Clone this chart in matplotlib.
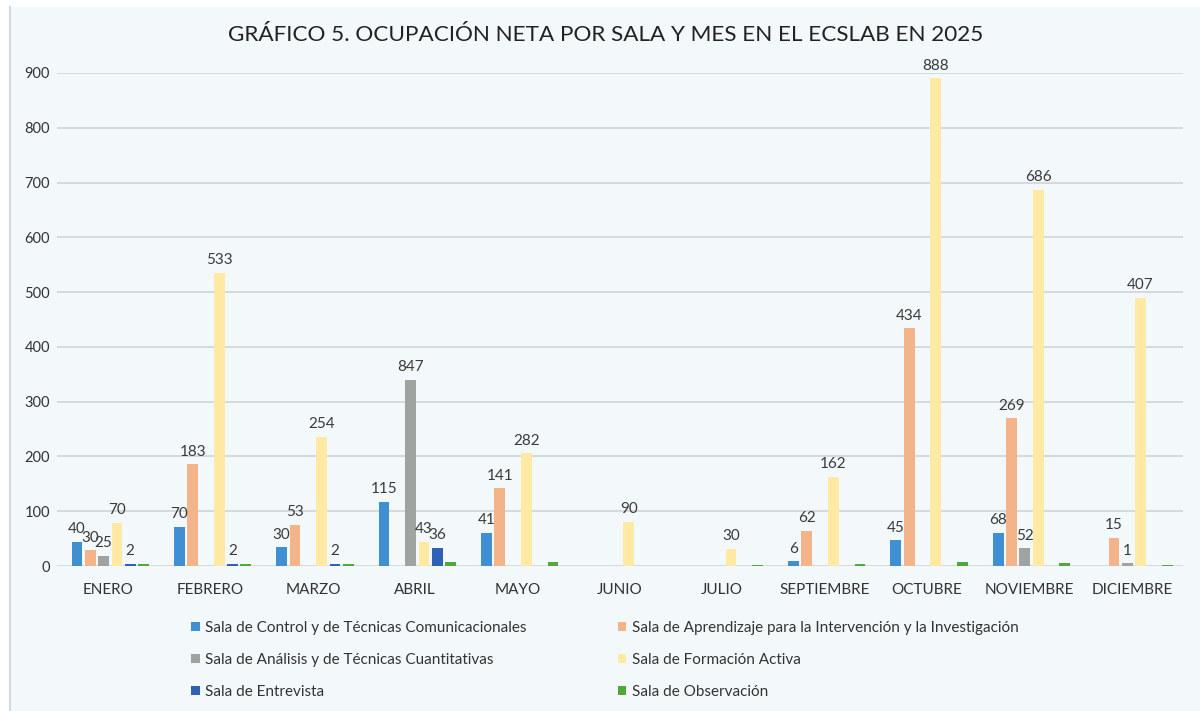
import numpy as np
import matplotlib.pyplot as plt
from matplotlib.patches import Patch
from matplotlib.lines import Line2D

meses = ["ENERO", "FEBRERO", "MARZO", "ABRIL", "MAYO", "JUNIO", "JULIO",
         "SEPTIEMBRE", "OCTUBRE", "NOVIEMBRE", "DICIEMBRE"]

salas = [
    "Sala de Control y de Técnicas Comunicacionales",
    "Sala de Aprendizaje para la Intervención y la Investigación",
    "Sala de Análisis y de Técnicas Cuantitativas",
    "Sala de Formación Activa",
    "Sala de Entrevista",
    "Sala de Observación",
]
colores = ["#3f8fd2", "#f4b48a", "#a0a4a0", "#ffe9a3", "#2d62b6", "#4fa83c"]

# bar heights as drawn in the picture
control = [44, 72, 34, 117, 61, 0, 0, 8.5, 47, 61, 0]
aprendizaje = [29, 186, 75, 0, 142, 0, 0, 64, 434, 270, 52]
analisis = [19, 0, 0, 340, 0, 0, 0, 0, 0, 32, 5]
formacion = [79, 535, 236, 44, 206, 81, 31, 163, 890, 687, 490]
entrevista = [4, 4, 4, 33, 0, 0, 0, 0, 0, 0, 0]
observacion = [4, 4, 4, 7, 7, 0, 2, 3, 8, 6, 2]

# numbers printed above the bars
lab_control = [40, 70, 30, 115, 41, None, None, 6, 45, 68, None]
lab_aprendizaje = [30, 183, 53, None, 141, None, None, 62, 434, 269, 15]
lab_analisis = [25, None, None, 847, None, None, None, None, None, 52, 1]
lab_formacion = [70, 533, 254, 43, 282, 90, 30, 162, 888, 686, 407]
lab_entrevista = [2, 2, 2, 36, None, None, None, None, None, None, None]
lab_observacion = [None] * 11

series = [control, aprendizaje, analisis, formacion, entrevista, observacion]
etiquetas = [lab_control, lab_aprendizaje, lab_analisis, lab_formacion,
             lab_entrevista, lab_observacion]

plt.rcParams['font.family'] = ['Lato', 'DejaVu Sans']

bg = "#f3f8fa"
fig = plt.figure(figsize=(12, 7.11), dpi=100, facecolor="white")
fig.patches.append(plt.Rectangle((10 / 1200, 0), 1 - 10 / 1200, 1 - 7 / 711,
                                 transform=fig.transFigure, facecolor=bg,
                                 edgecolor="none", zorder=-10))
fig.lines.append(Line2D([10 / 1200, 10 / 1200], [0, 1 - 7 / 711],
                        transform=fig.transFigure, color="#d5d9db", lw=1.5))

ax = fig.add_axes([57 / 1200, 1 - 566 / 711, 1126 / 1200, 493 / 711])
ax.set_facecolor("none")

x = np.arange(len(meses))
pitch = 0.13
width = 0.105
for i, (vals, labs) in enumerate(zip(series, etiquetas)):
    pos = x + (i - 2.5) * pitch + 0.02
    ax.bar(pos, vals, width, color=colores[i], zorder=3)
    for px, v, lab in zip(pos, vals, labs):
        if lab is not None:
            ax.annotate(str(lab), (px, v), xytext=(0, 4), textcoords="offset points",
                        ha="center", va="bottom", fontsize=11, color="#3a3a3a",
                        annotation_clip=False, zorder=4)

ax.set_xlim(-0.5, 10.5)
ax.set_ylim(0, 900)
ax.set_yticks(range(0, 901, 100))
ax.set_xticks(x)
ax.set_xticklabels(meses, fontsize=11, color="#333333")
ax.tick_params(axis="y", labelsize=10.5, labelcolor="#333333", length=0, pad=5)
ax.tick_params(axis="x", length=0, pad=12)
ax.grid(axis="y", color="#d2d4d6", lw=1.2, zorder=0)
for s in ax.spines.values():
    s.set_visible(False)

fig.text(0.505, 1 - 35 / 711, "GRÁFICO 5. OCUPACIÓN NETA POR SALA Y MES EN EL ECSLAB EN 2025",
         ha="center", va="center", fontsize=16.2, color="#222222")

handles = [Patch(facecolor=c, edgecolor="none") for c in colores]
orden = [0, 2, 4, 1, 3, 5]
fig.legend([handles[k] for k in orden], [salas[k] for k in orden],
           ncol=2, loc="upper left", bbox_to_anchor=(185 / 1200, 1 - 615 / 711),
           frameon=False, fontsize=11, handlelength=0.55, handleheight=0.55,
           handletextpad=0.35, columnspacing=6.0, labelspacing=1.17,
           labelcolor="#333333", borderaxespad=0)

fig.savefig("out.png", dpi=100, facecolor=fig.get_facecolor())
